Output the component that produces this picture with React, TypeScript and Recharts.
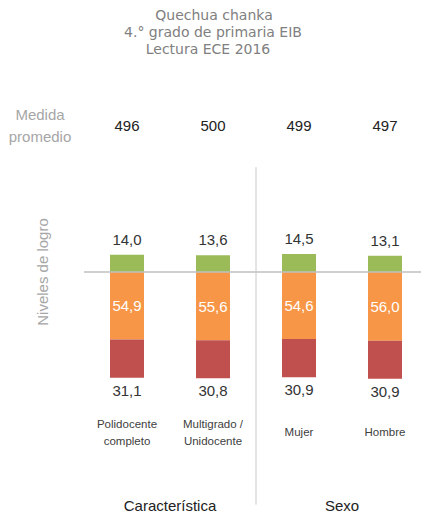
import React from "react"
import { BarChart, Bar, XAxis, YAxis, ReferenceLine, LabelList } from "recharts"

const categories = ["Polidocente\ncompleto", "Multigrado /\nUnidocente", "Mujer", "Hombre"]
const groups = ["Característica", "Característica", "Sexo", "Sexo"]
const medias = [496, 500, 499, 497]
const satisfactorio = [14.0, 13.6, 14.5, 13.1]
const enProceso = [54.9, 55.6, 54.6, 56.0]
const enInicio = [31.1, 30.8, 30.9, 30.9]

const data = categories.map((cat, i) => ({
    cat,
    grupo: groups[i],
    media: medias[i],
    satisfactorio: satisfactorio[i],
    proceso: -enProceso[i],
    inicio: -enInicio[i],
}))

const W = 430
const H = 513
const MT = 198
const ML = 84
const MR = 2
const AXIS_H = 118
const BAND = (W - ML - MR) / categories.length

const SANS = "'Liberation Sans', Arial, sans-serif"
const TITLE_FONT = "'DejaVu Sans', sans-serif"
const fmt = (v: number) => Math.abs(v).toFixed(1).replace(".", ",")

const TopLabel = (p: any) => {
    const top = Math.min(p.y, p.y + p.height)
    return (
        <text x={p.x + p.width / 2} y={top - 10} textAnchor="middle" fontSize={15} fill="#333" fontFamily={SANS}>
            {fmt(p.value)}
        </text>
    )
}

const MidLabel = (p: any) => (
    <text x={p.x + p.width / 2} y={p.y + p.height / 2 + 5.4} textAnchor="middle" fontSize={15} fill="#fff" fontFamily={SANS}>
        {fmt(p.value)}
    </text>
)

const BottomLabel = (p: any) => {
    const bottom = Math.max(p.y, p.y + p.height)
    return (
        <text x={p.x + p.width / 2} y={bottom + 18} textAnchor="middle" fontSize={15} fill="#333" fontFamily={SANS}>
            {fmt(p.value)}
        </text>
    )
}

// bottom tick: category name, plus the mean score row above the plot and the group name below
const CatTick = (p: any) => {
    const lines = String(p.payload.value).split("\n")
    const first = lines.length > 1 ? 33 : 41
    const plotH = H - MT - AXIS_H
    return (
        <g>
            <text x={p.x} y={p.y - plotH - 67} textAnchor="middle" fontSize={15} fill="#222" fontFamily={SANS}>
                {medias[p.index]}
            </text>
            {lines.map((l, k) => (
                <text key={k} x={p.x} y={p.y + first + k * 17} textAnchor="middle" fontSize={11.5} fill="#404040" fontFamily={SANS}>
                    {l}
                </text>
            ))}
            {p.index % 2 === 0 && (
                <text x={p.x + BAND / 2} y={p.y + 116} textAnchor="middle" fontSize={15} fill="#222" fontFamily={SANS}>
                    {groups[p.index]}
                </text>
            )}
        </g>
    )
}

export default function App() {
    return (
        <div style={{ position: "absolute", left: 0, top: 0, width: 421, height: 513, overflow: "hidden", background: "#fff" }}>
            <BarChart
                width={W}
                height={H}
                data={data}
                stackOffset="sign"
                margin={{ top: MT, right: MR, left: ML, bottom: 0 }}
            >
                <text x={214} y={19.5} textAnchor="middle" fontSize={14} fill="#808080" fontFamily={TITLE_FONT}>
                    Quechua chanka
                </text>
                <text x={213} y={36.5} textAnchor="middle" fontSize={14} fill="#808080" fontFamily={TITLE_FONT}>
                    4.° grado de primaria EIB
                </text>
                <text x={208} y={53.5} textAnchor="middle" fontSize={14} fill="#808080" fontFamily={TITLE_FONT}>
                    Lectura ECE 2016
                </text>
                <text x={40} y={120} textAnchor="middle" fontSize={15} fill="#a6a6a6" fontFamily={SANS}>
                    Medida
                </text>
                <text x={40} y={142} textAnchor="middle" fontSize={15} fill="#a6a6a6" fontFamily={SANS}>
                    promedio
                </text>
                <text
                    x={42}
                    y={272}
                    transform="rotate(-90 42 272)"
                    textAnchor="middle"
                    dominantBaseline="central"
                    fontSize={15}
                    fill="#a6a6a6"
                    fontFamily={SANS}
                >
                    Niveles de logro
                </text>
                <XAxis
                    dataKey="cat"
                    height={AXIS_H}
                    axisLine={false}
                    tickLine={false}
                    tickSize={0}
                    tickMargin={0}
                    interval={0}
                    tick={<CatTick />}
                />
                <YAxis hide domain={[-100, 60]} />
                <Bar dataKey="satisfactorio" stackId="a" fill="#9BBB59" barSize={34} isAnimationActive={false}>
                    <LabelList dataKey="satisfactorio" content={<TopLabel />} />
                </Bar>
                <Bar dataKey="proceso" stackId="a" fill="#F79646" barSize={34} isAnimationActive={false}>
                    <LabelList dataKey="proceso" content={<MidLabel />} />
                </Bar>
                <Bar dataKey="inicio" stackId="a" fill="#C0504D" barSize={34} isAnimationActive={false}>
                    <LabelList dataKey="inicio" content={<BottomLabel />} />
                </Bar>
                <ReferenceLine y={0} stroke="#bfbfbf" strokeWidth={1.5} />
                <ReferenceLine
                    segment={[{ x: categories[1], y: 85 }, { x: categories[1], y: -189 }]}
                    position="end"
                    ifOverflow="visible"
                    stroke="#c8c8c8"
                    strokeWidth={1}
                />
            </BarChart>
        </div>
    )
}
